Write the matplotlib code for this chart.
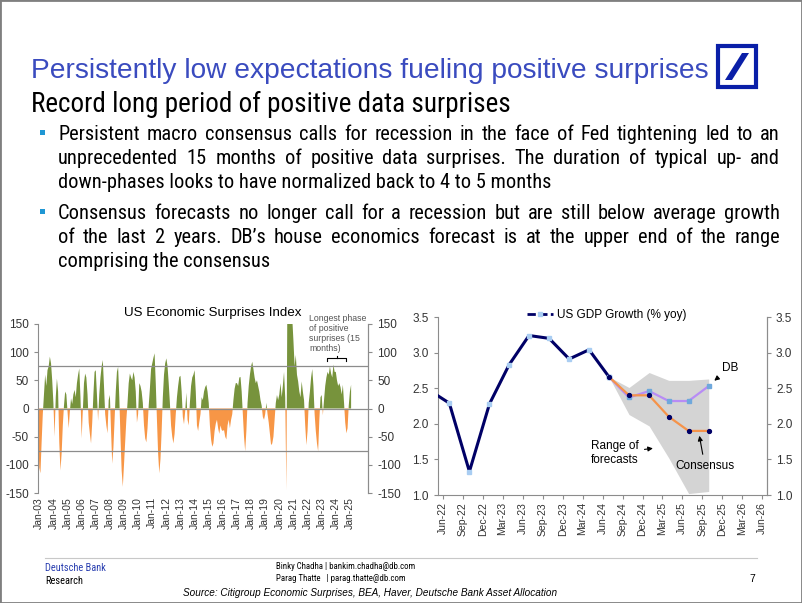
import numpy as np
import pandas as pd
import matplotlib
matplotlib.use('Agg')
import matplotlib.pyplot as plt
from matplotlib import font_manager
from matplotlib.patches import Rectangle, Polygon
from matplotlib.lines import Line2D

W, H = 802, 603

# ---- left chart: US economic surprises index (monthly, first value Dec-02)
cesi_start = 2002 + 11 / 12
cesi = [-40,
        -105, -115, -60, -10, 25, 60, 40, 68, 75, 92, 80, 50,      # 2003
        10, -50, 20, 53, 30, -60, -110, -80, -30, 5, 30, 25,       # 2004
        -5, -35, -5, 18, 8, 25, 33, 20, 45, 60, 71, 20,            # 2005
        -53, -5, 45, 62, 55, 25, -25, -45, -62, -25, 25, 65,       # 2006
        68, 25, -22, 25, 55, 75, 86, 40, -10, -30, -44, 15,        # 2007
        24, -40, -98, -70, -20, 30, 65, 74, 20, -50, -110, -139,   # 2008
        -100, -60, -20, 10, 45, 62, 55, 50, 65, 55, 30, -25,       # 2009
        -10, 45, 40, 30, 10, -30, -53, -60, -35, 5, 35, 70,        # 2010
        80, 90, 98, 45, -20, -80, -115, -90, -40, 20, 60, 80,      # 2011
        89, 75, 45, 10, -30, -50, -62, -45, -10, 20, 40, 56,       # 2012
        58, 30, -15, -28, -5, 28, -20, -30, 10, 40, 55, 60,        # 2013
        68, 30, -30, -40, -24, -10, 20, 15, 30, 38, 42, 30,        # 2014
        10, -30, -55, -68, -62, -40, -27, -20, -35, -45, -30, -38, # 2015
        -40, -38, -50, -55, -30, -20, -35, -20, -10, 15, 35, 45,   # 2016
        45, 40, 55, 56, 30, -10, -50, -76, -40, 10, 40, 60,        # 2017
        75, 83, 70, 55, 45, 50, 40, 30, 15, 5, -15, -20,           # 2018
        -10, 10, -10, -25, -45, -65, -62, -50, -20, 10, 24, 15,    # 2019
        25, 45, 20, 40, 65, 20, -145, 260, 280, 250, 200, 160,     # 2020
        120, 75, 95, 60, 48, 30, 20, 48, 30, 15, -30, -65,         # 2021
        -40, 10, 30, 55, 70, 40, -10, -40, -62, -76, -20, 20,      # 2022
        24, -12, 15, 40, 55, 65, 60, 75, 62, 55, 78, 65,           # 2023
        65, 50, 40, 45, 38, 25, 42, 10, -25, -44, -35, 5,          # 2024
        30, 42]                                                    # 2025
band = 75
surp_years = list(range(2003, 2026))
surp_labels = ['Jan-%02d' % (y % 100) for y in surp_years]
phase_start, phase_end = 2023.4, 2024.75

# ---- right chart: US GDP growth (% yoy), actual and forecasts
gdp_dates = ['2022-03-31', '2022-06-30', '2022-09-30', '2022-12-31', '2023-03-31',
             '2023-06-30', '2023-09-30', '2023-12-31', '2024-03-31', '2024-06-30']
gdp = [2.47, 2.29, 1.33, 2.28, 2.83, 3.24, 3.20, 2.91, 3.04, 2.66]
fc_dates = ['2024-06-30', '2024-09-30', '2024-12-31', '2025-03-31', '2025-06-30', '2025-09-30']
consensus = [2.66, 2.40, 2.40, 2.10, 1.90, 1.90]
db_fc = [2.66, 2.37, 2.46, 2.32, 2.32, 2.53]
range_hi = [2.66, 2.51, 2.72, 2.61, 2.61, 2.63]
range_lo = [2.66, 2.13, 1.97, 1.52, 1.02, 1.05]
gdp_ticks = pd.date_range('2022-06-01', '2026-06-01', freq='3MS')
gdp_labels = [d.strftime('%b-%y') for d in gdp_ticks]

gdp_dates = pd.to_datetime(gdp_dates)
fc_dates = pd.to_datetime(fc_dates)

plt.rcParams['font.family'] = ['Liberation Sans', 'DejaVu Sans']
plt.rcParams['axes.unicode_minus'] = False


def pick_narrow():
    fl = font_manager.fontManager.ttflist
    for name in ('Liberation Sans Narrow', 'Arial Narrow', 'Roboto Condensed', 'Open Sans Condensed'):
        if any(f.name == name for f in fl):
            return dict(family=name)
    for name in ('Noto Sans', 'Open Sans', 'DejaVu Sans'):
        if any(f.name == name and 'condensed' in str(f.stretch) for f in fl):
            return dict(family=name, stretch='condensed')
    return dict(family='Liberation Sans')


narrow = pick_narrow()
regular = dict(family='Liberation Sans')


def fx(x):
    return x / W


def fy(y):
    return 1 - y / H


def mon(k):
    # months after Jun-22 -> date
    return pd.Timestamp('2022-06-01') + pd.Timedelta(days=k * 30.44)


fig = plt.figure(figsize=(W / 100, H / 100), dpi=100)
renderer = fig.canvas.get_renderer()


def fit(s, width, font, **kw):
    t = fig.text(0, 0, s, fontsize=20, **font, **kw)
    w = t.get_window_extent(renderer).width
    t.remove()
    return 20 * width / w


def justify(line, y, x0, x1, size, font):
    words = line.split()
    ts = [fig.text(0, fy(y), w, fontsize=size, va='baseline', **font) for w in words]
    ws = [t.get_window_extent(renderer).width for t in ts]
    gap = (x1 - x0 - sum(ws)) / (len(ws) - 1)
    x = x0
    for t, w in zip(ts, ws):
        t.set_x(fx(x))
        x += w + gap


# ---- header
title = 'Persistently low expectations fueling positive surprises'
fig.text(fx(31), fy(78), title, color='#3a4bbf', va='baseline',
         fontsize=fit(title, 676, regular), **regular)
sub = 'Record long period of positive data surprises'
fig.text(fx(31), fy(112), sub, color='black', va='baseline',
         fontsize=fit(sub, 479, narrow), **narrow)

# logo
fig.add_artist(Rectangle((fx(718), fy(87)), fx(38), fy(46) - fy(87), transform=fig.transFigure,
                         fill=False, ec='#0a1fa8', lw=3))
fig.add_artist(Polygon([(fx(725), fy(80)), (fx(732), fy(80)), (fx(749), fy(53)), (fx(742), fy(53))],
                       closed=True, transform=fig.transFigure, fc='#0a1fa8', ec='none'))

# bullets
p1 = ['Persistent macro consensus calls for recession in the face of Fed tightening led to an',
      'unprecedented 15 months of positive data surprises. The duration of typical up- and',
      'down-phases looks to have normalized back to 4 to 5 months']
p2 = ['Consensus forecasts no longer call for a recession but are still below average growth',
      'of the last 2 years. DB\u2019s house economics forecast is at the upper end of the range',
      'comprising the consensus']
bsize = fit(p1[2], 490, narrow)
for para, ys in ((p1, (140, 164, 188)), (p2, (219, 243, 267))):
    fig.add_artist(Rectangle((fx(40), fy(ys[0] - 5)), fx(5), fy(ys[0] - 10) - fy(ys[0] - 5),
                             transform=fig.transFigure, fc='#1f97d4', ec='none'))
    for line, y in zip(para[:-1], ys[:-1]):
        justify(line, y, 58, 780, bsize, narrow)
    fig.text(fx(58), fy(ys[-1]), para[-1], fontsize=bsize, va='baseline', **narrow)

# ---- left chart
ax1 = fig.add_axes([fx(38), fy(493), fx(368) - fx(38), fy(324) - fy(493)])
t = cesi_start + np.arange(len(cesi)) / 12
v = np.array(cesi, dtype=float)
ax1.fill_between(t, v, 0, where=v >= 0, interpolate=True, color='#77933c', lw=0)
ax1.fill_between(t, v, 0, where=v <= 0, interpolate=True, color='#f79646', lw=0)
for lvl in (band, 0, -band):
    ax1.axhline(lvl, color='#8c8c8c', lw=0.9)
ax1.plot([phase_start, phase_start, phase_end, phase_end], [85, 89, 89, 85], color='black', lw=0.8)
ax1.plot([(phase_start + phase_end) / 2] * 2, [89, 93], color='black', lw=0.8)
ax1.set_xlim(2002.91, 2026.28)
ax1.set_ylim(-150, 150)
ax1.set_yticks(range(-150, 151, 50))
ax1.set_xticks(surp_years)
ax1.set_xticklabels(surp_labels, rotation=90, fontsize=7.5, color='#333333')
ax1.tick_params(axis='x', length=0, pad=3)
ax1.tick_params(axis='y', labelsize=8.5, labelcolor='#333333', color='#8c8c8c', length=3, direction='out')
for s in ('top', 'bottom'):
    ax1.spines[s].set_visible(False)
for s in ('left', 'right'):
    ax1.spines[s].set_color('#8c8c8c')
ax1b = ax1.twinx()
ax1b.set_ylim(-150, 150)
ax1b.set_yticks(range(-150, 151, 50))
ax1b.tick_params(axis='y', labelsize=8.5, labelcolor='#333333', color='#8c8c8c', length=3, direction='out')
for s in ('top', 'bottom', 'left'):
    ax1b.spines[s].set_visible(False)
ax1b.spines['right'].set_color('#8c8c8c')
fig.text(fx(213), fy(313), 'US Economic Surprises Index', ha='center', va='center', fontsize=9.6)
fig.text(fx(309), fy(314), 'Longest phase\nof positive\nsurprises (15\nmonths)', ha='left', va='top',
         fontsize=6.3, color='#555555', linespacing=1.15)

# ---- right chart
ax2 = fig.add_axes([fx(438), fy(495), fx(767) - fx(438), fy(317) - fy(495)])
ax2.fill_between(fc_dates, range_lo, range_hi, color='#d4d4d4', lw=0, zorder=1)
ax2.plot(gdp_dates, gdp, color='#000066', lw=2.2, marker='s', ms=2.8,
         mfc='#a9cdf2', mec='#a9cdf2', zorder=4)
ax2.plot(fc_dates, db_fc, color='#b88cf5', lw=1.6, marker='s', ms=2.8,
         mfc='#6fa8dc', mec='#6fa8dc', zorder=3)
ax2.plot(fc_dates, consensus, color='#f5934a', lw=1.6, marker='o', ms=2.8,
         mfc='#000066', mec='#000066', zorder=5)
ax2.set_xlim(mon(-0.75), mon(48.75))
ax2.set_ylim(1.0, 3.5)
ax2.set_yticks(np.arange(1.0, 3.51, 0.5))
ax2.set_yticklabels(['%.1f' % y for y in np.arange(1.0, 3.51, 0.5)])
ax2.set_xticks(gdp_ticks)
ax2.set_xticklabels(gdp_labels, rotation=90, fontsize=7.5, color='#333333')
ax2.tick_params(axis='x', length=3, color='#8c8c8c', pad=2)
ax2.tick_params(axis='y', labelsize=8.5, labelcolor='#333333', color='#8c8c8c', length=3)
ax2.spines['top'].set_visible(False)
for s in ('left', 'right', 'bottom'):
    ax2.spines[s].set_color('#8c8c8c')
ax2b = ax2.twinx()
ax2b.set_ylim(1.0, 3.5)
ax2b.set_yticks(np.arange(1.0, 3.51, 0.5))
ax2b.set_yticklabels(['%.1f' % y for y in np.arange(1.0, 3.51, 0.5)])
ax2b.tick_params(axis='y', labelsize=8.5, labelcolor='#333333', color='#8c8c8c', length=3)
for s in ('top', 'bottom', 'left'):
    ax2b.spines[s].set_visible(False)
ax2b.spines['right'].set_color('#8c8c8c')

handle = Line2D([], [], color='#000066', lw=2, ls=(0, (3, 1.2)), marker='s', ms=2.8,
                mfc='#a9cdf2', mec='#a9cdf2')
ax2.legend([handle], ['US GDP Growth (% yoy)'], loc='upper left', frameon=False, fontsize=8.5,
           bbox_to_anchor=(fx(527), fy(309)), bbox_transform=fig.transFigure,
           handlelength=2.2, handletextpad=0.3, borderaxespad=0, borderpad=0)
arrow = dict(arrowstyle='-|>', color='black', lw=0.8, mutation_scale=7)
ax2.annotate('DB', xy=(mon(40.5), 2.58), xytext=(mon(43.2), 2.79), ha='center', va='center',
             fontsize=8.5, arrowprops=arrow)
ax2.annotate('Range of\nforecasts', xy=(mon(32.0), 1.66), xytext=(mon(22.3), 1.59), ha='left',
             va='center', fontsize=8.5, linespacing=1.3, arrowprops=arrow)
ax2.annotate('Consensus', xy=(mon(38.5), 1.87), xytext=(mon(39.4), 1.41), ha='center', va='center',
             fontsize=8.5, arrowprops=arrow)

# ---- footer
fig.add_artist(Line2D([fx(45), fx(757)], [fy(558), fy(558)], transform=fig.transFigure,
                      color='#c8c8c8', lw=0.8))
fig.text(fx(45), fy(571), 'Deutsche Bank', fontsize=7.5, color='#2a3fb0', va='baseline', **narrow)
fig.text(fx(45), fy(584), 'Research', fontsize=7.5, color='black', va='baseline', **narrow)
fig.text(fx(276), fy(569), 'Binky Chadha | bankim.chadha@db.com', fontsize=6.3, va='baseline', **narrow)
fig.text(fx(276), fy(581), 'Parag Thatte   | parag.thatte@db.com', fontsize=6.3, va='baseline', **narrow)
fig.text(fx(755), fy(582), '7', fontsize=7.5, ha='right', va='baseline')
src = 'Source: Citigroup Economic Surprises, BEA, Haver, Deutsche Bank Asset Allocation'
fig.text(fx(370), fy(596), src, ha='center', va='baseline', style='italic',
         fontsize=fit(src, 374, regular, style='italic'), **regular)

fig.add_artist(Rectangle((0, 0), 1, 1, transform=fig.transFigure, fill=False, ec='#7f7f7f', lw=2))

fig.savefig('out.png', dpi=100)
